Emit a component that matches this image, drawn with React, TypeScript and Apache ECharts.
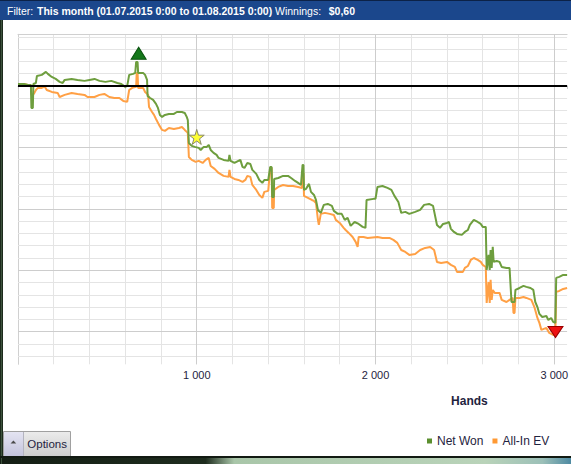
import React, { useEffect, useRef } from 'react';
import * as echarts from 'echarts';

// Hands played vs. result (y unit = one minor gridline)
const netWon: [number, number][] = [
  [0,0.16],[33,0.16],[56,0.08],[72,0.08],[75,-1.79],[83,-1.79],[86,0.16],[100,0.24],[106,0.81],[133,0.9],[156,1.14],[167,0.98],[189,0.73],[211,0.57],[233,0.33],[250,0.24],[261,0.49],[300,0.57],[333,0.49],[372,0.41],[400,0.49],[428,0.57],[456,0.41],[489,0.33],[522,0.41],[556,0.24],[578,0.16],[600,-0.08],[611,0],[622,0.9],[644,0.98],[656,1.06],[661,1.95],[669,1.95],[672,1.06],[700,1.06],[711,0.9],[722,0.49],[725,-0.81],[739,-0.98],[756,-1.14],[772,-1.46],[783,-1.79],[794,-2.36],[806,-2.52],[822,-2.36],[844,-2.28],[872,-2.28],[889,-2.12],[917,-2.12],[933,-2.2],[944,-2.52],[950,-2.77],[956,-4.64],[972,-4.88],[989,-4.96],[1011,-5.04],[1022,-5.21],[1039,-4.96],[1056,-4.96],[1067,-4.8],[1078,-5.21],[1094,-5.45],[1111,-5.61],[1122,-5.86],[1150,-6.02],[1178,-6.1],[1183,-5.61],[1189,-6.1],[1211,-6.27],[1233,-6.1],[1244,-6.02],[1256,-6.59],[1267,-6.67],[1283,-6.27],[1300,-6.35],[1311,-6.83],[1333,-7.16],[1350,-7.65],[1367,-7.89],[1378,-7.65],[1400,-7.65],[1411,-6.59],[1419,-6.59],[1422,-9.03],[1431,-9.03],[1433,-7.57],[1456,-7.49],[1483,-7.32],[1511,-7.32],[1528,-7.49],[1550,-7.73],[1567,-7.89],[1583,-8.06],[1592,-6.43],[1597,-6.43],[1600,-8.46],[1611,-8.38],[1628,-7.97],[1639,-8.62],[1656,-8.87],[1667,-9.28],[1678,-10.09],[1694,-10.33],[1711,-9.68],[1733,-9.6],[1756,-9.76],[1767,-10.17],[1789,-10.41],[1811,-10.41],[1828,-10.9],[1844,-10.74],[1861,-11.39],[1883,-11.07],[1906,-11.23],[1928,-11.47],[1944,-11.55],[1950,-9.28],[1989,-9.19],[2000,-9.19],[2011,-8.22],[2039,-8.14],[2067,-8.3],[2089,-8.46],[2106,-8.95],[2128,-9.44],[2144,-10.33],[2167,-10.25],[2189,-10.41],[2222,-10.25],[2250,-10.09],[2272,-9.68],[2300,-9.6],[2322,-9.76],[2344,-11.31],[2361,-11.55],[2378,-11.23],[2400,-11.15],[2411,-11.07],[2422,-11.63],[2439,-11.88],[2456,-12.04],[2483,-12.12],[2500,-11.88],[2517,-11.72],[2528,-11.31],[2550,-10.9],[2572,-11.07],[2589,-11.23],[2600,-11.47],[2617,-11.47],[2622,-14.97],[2633,-13.75],[2639,-14.97],[2644,-13.35],[2650,-14.81],[2656,-13.1],[2661,-14.32],[2678,-14.24],[2694,-14.32],[2706,-14.73],[2733,-14.81],[2750,-14.81],[2761,-17.58],[2778,-17.58],[2783,-16.6],[2806,-16.44],[2828,-16.27],[2844,-16.35],[2867,-16.44],[2883,-16.6],[2894,-17.58],[2906,-17.99],[2917,-18.55],[2933,-18.8],[2956,-18.72],[2967,-19.04],[2983,-18.88],[2994,-19.2],[3006,-19.28],[3011,-15.62],[3028,-15.54],[3050,-15.38],[3072,-15.38]
];

const allInEV: [number, number][] = [
  [0,0.16],[33,0.16],[56,0.08],[72,0.08],[75,-0.73],[89,-0.65],[100,-0.33],[111,-0.16],[133,-0.16],[150,-0.06],[161,-0.33],[189,-0.49],[222,-0.57],[233,-0.9],[261,-0.73],[300,-0.57],[333,-0.65],[372,-0.73],[389,-0.9],[428,-0.9],[456,-0.73],[483,-0.65],[511,-0.9],[539,-0.98],[567,-0.98],[589,-1.22],[611,-1.3],[622,-0.33],[639,-0.16],[661,-0.08],[664,1.06],[669,1.06],[672,-0.16],[700,-0.16],[711,-0.49],[728,-0.73],[733,-1.71],[750,-2.12],[761,-2.36],[772,-2.69],[789,-3.17],[806,-3.58],[822,-3.66],[844,-3.42],[872,-3.5],[900,-3.42],[917,-3.34],[933,-3.58],[944,-3.74],[950,-3.82],[956,-5.78],[972,-6.02],[994,-6.18],[1011,-6.1],[1033,-6.27],[1050,-6.02],[1067,-5.86],[1078,-6.51],[1100,-6.75],[1122,-7.08],[1150,-7.32],[1178,-7.4],[1183,-6.83],[1189,-7.4],[1211,-7.57],[1233,-7.65],[1256,-7.81],[1272,-7.65],[1283,-7.32],[1300,-7.4],[1311,-8.06],[1333,-8.46],[1350,-8.87],[1367,-9.11],[1378,-8.62],[1400,-8.54],[1411,-6.67],[1419,-6.67],[1422,-9.93],[1431,-9.93],[1433,-8.46],[1456,-8.22],[1483,-8.06],[1511,-8.14],[1539,-8.14],[1567,-8.22],[1589,-8.3],[1592,-7.08],[1597,-7.08],[1600,-8.95],[1622,-9.11],[1644,-9.28],[1656,-9.36],[1667,-9.52],[1678,-10.9],[1683,-11.31],[1694,-10.41],[1717,-10.33],[1744,-10.41],[1767,-10.5],[1778,-10.9],[1800,-11.15],[1822,-11.55],[1833,-11.72],[1850,-11.96],[1872,-12.29],[1889,-12.69],[1900,-13.1],[1906,-12.29],[1933,-12.29],[1956,-12.37],[2011,-12.29],[2039,-12.37],[2078,-12.37],[2100,-12.53],[2122,-12.77],[2144,-13.35],[2167,-13.51],[2189,-13.75],[2222,-13.67],[2250,-13.35],[2278,-13.18],[2306,-13.1],[2328,-13.35],[2344,-14.32],[2367,-14.4],[2400,-14.32],[2422,-14.56],[2444,-14.73],[2456,-15.13],[2489,-15.13],[2500,-14.81],[2517,-14.65],[2533,-14.16],[2550,-14],[2572,-14.16],[2589,-14.32],[2600,-14.56],[2617,-14.73],[2622,-17.66],[2633,-15.95],[2639,-17.66],[2644,-15.78],[2650,-17.41],[2656,-16.6],[2667,-16.84],[2694,-16.84],[2706,-17.41],[2733,-17.58],[2750,-17.41],[2767,-17.25],[2772,-18.48],[2778,-18.48],[2783,-17.25],[2806,-17.25],[2828,-17.17],[2844,-17.25],[2872,-17.41],[2889,-17.99],[2906,-18.88],[2917,-19.28],[2928,-19.85],[2956,-19.69],[2972,-20.1],[2994,-20.26],[3006,-20.26],[3011,-16.76],[3028,-16.68],[3050,-16.52],[3072,-16.44]
];

const bestPoint: [number, number][] = [[675, 2.66]];
const starPoint: [number, number][] = [[1000, -4.15]];
const worstPoint: [number, number][] = [[3007, -20.02]];

const seriesNames = ['Net Won', 'All-In EV'];
const xMajorTicks = [1000, 2000, 3000];
const yGridValues = [4, 3, 2, 1, -1, -2, -3, -4, -5, -6, -7, -8, -9, -10, -11, -12, -13, -14, -15, -16, -17, -18, -19, -20, -21, -22];
const yMajorValues = [-5, -10, -15, -20];

const FONT = '"Liberation Sans", Arial, sans-serif';
const TEXT = '#1f2340';
const STAR = 'path://M50,0 L61,35 L98,35 L68,57 L79,91 L50,70 L21,91 L32,57 L2,35 L39,35 Z';

export default function App() {
  const ref = useRef<HTMLDivElement>(null);
  useEffect(() => {
    const chart = echarts.init(ref.current!, null, { renderer: 'svg', width: 571, height: 464 });
    const gridLines: any[] = [
      ...yGridValues.map((v) => ({
        yAxis: v,
        lineStyle: { color: yMajorValues.includes(v) ? '#cdcdcd' : '#e4e4e4', width: 1, type: 'solid' },
      })),
      ...xMajorTicks.map((v) => ({
        xAxis: v,
        lineStyle: { color: '#cdcdcd', width: 1, type: 'solid' },
      })),
    ];
    chart.setOption({
      animation: false,
      backgroundColor: '#ffffff',
      grid: { left: 18, top: 34.3, right: 0, bottom: 99.7 },
      legend: {
        data: seriesNames,
        left: 422,
        top: 430,
        padding: 5,
        icon: 'rect',
        itemWidth: 5,
        itemHeight: 5,
        itemGap: 9,
        selectedMode: false,
        textStyle: { fontFamily: FONT, fontSize: 12, color: TEXT },
      },
      xAxis: [
        {
          type: 'value',
          min: 0,
          max: 3072,
          interval: 200,
          axisLine: { show: true, lineStyle: { color: '#c8c8c8', width: 1 } },
          axisTick: { show: true, length: 3, lineStyle: { color: '#c8c8c8' } },
          splitLine: { show: true, showMinLine: false, showMaxLine: false, lineStyle: { color: '#e4e4e4', width: 1 } },
          axisLabel: {
            margin: 5,
            fontFamily: FONT,
            fontSize: 11,
            color: TEXT,
            formatter: (v: number) => (v > 0 && v % 1000 === 0 ? `${v / 1000} 000` : ''),
          },
        },
        {
          type: 'value',
          position: 'top',
          min: 0,
          max: 3072,
          axisLine: { show: true, lineStyle: { color: '#d0d0d0', width: 1 } },
          axisTick: { show: false },
          axisLabel: { show: false },
          splitLine: { show: false },
        },
      ],
      yAxis: {
        type: 'value',
        min: -22.65,
        max: 4.2,
        axisLine: { show: true, lineStyle: { color: '#d0d0d0', width: 1 } },
        axisTick: { show: false },
        axisLabel: { show: false },
        splitLine: { show: false },
      },
      series: [
        {
          name: 'grid',
          type: 'line',
          data: [[0, 0]],
          showSymbol: false,
          lineStyle: { width: 0, opacity: 0 },
          silent: true,
          z: 1,
          markLine: {
            silent: true,
            z: 1,
            symbol: ['none', 'none'],
            label: { show: false },
            data: gridLines,
          },
        },
        {
          name: 'All-In EV',
          type: 'line',
          data: allInEV,
          showSymbol: false,
          symbol: 'none',
          color: '#ff9933',
          lineStyle: { color: '#ffa045', width: 2 },
          z: 3,
        },
        {
          name: 'Net Won',
          type: 'line',
          data: netWon,
          showSymbol: false,
          symbol: 'none',
          color: '#5b8f2e',
          lineStyle: { color: '#6e9e3e', width: 2 },
          z: 4,
          markLine: {
            silent: true,
            z: 6,
            symbol: ['none', 'none'],
            label: { show: false },
            data: [{ yAxis: 0, lineStyle: { color: '#000000', width: 2, type: 'solid' } }],
          },
        },
        {
          name: 'best',
          type: 'scatter',
          data: bestPoint,
          symbol: 'triangle',
          symbolSize: [15, 12],
          itemStyle: { color: '#14781a', borderColor: '#0b5410', borderWidth: 1, opacity: 1 },
          z: 8,
          silent: true,
        },
        {
          name: 'mark',
          type: 'scatter',
          data: starPoint,
          symbol: STAR,
          symbolSize: 15,
          itemStyle: { color: '#ffff33', borderColor: '#8a8a6a', borderWidth: 1, opacity: 1 },
          z: 8,
          silent: true,
        },
        {
          name: 'worst',
          type: 'scatter',
          data: worstPoint,
          symbol: 'triangle',
          symbolRotate: 180,
          symbolSize: [15, 11],
          itemStyle: { color: '#ee1111', borderColor: '#9a0000', borderWidth: 1, opacity: 1 },
          z: 8,
          silent: true,
        },
      ],
      graphic: [
        // header bar
        { type: 'rect', shape: { x: 0, y: 0, width: 571, height: 20 }, style: { fill: '#1b478c' }, z: 100 },
        { type: 'rect', shape: { x: 0, y: 0, width: 571, height: 1 }, style: { fill: '#0c2247' }, z: 101 },
        { type: 'text', x: 7, y: 11.2, z: 102, style: { text: 'Filter:', fill: '#ffffff', fontFamily: FONT, fontSize: 10.5, verticalAlign: 'middle' } },
        { type: 'text', x: 37, y: 11.2, z: 102, style: { text: 'This month (01.07.2015 0:00 to 01.08.2015 0:00)', fill: '#ffffff', fontFamily: FONT, fontSize: 10.5, fontWeight: 'bold', verticalAlign: 'middle' } },
        { type: 'text', x: 275, y: 11.2, z: 102, style: { text: 'Winnings:', fill: '#ffffff', fontFamily: FONT, fontSize: 10.5, verticalAlign: 'middle' } },
        { type: 'text', x: 328.7, y: 11.2, z: 102, style: { text: '$0,60', fill: '#ffffff', fontFamily: FONT, fontSize: 10.5, fontWeight: 'bold', verticalAlign: 'middle' } },
        // left window frame
        { type: 'rect', shape: { x: 0, y: 20, width: 3, height: 444 }, style: { fill: '#1c2a1c' }, z: 100 },
        { type: 'rect', shape: { x: 1, y: 20, width: 1, height: 444 }, style: { fill: '#3c523c' }, z: 101 },
        // axis title
        { type: 'text', x: 469.4, y: 400.5, z: 50, style: { text: 'Hands', fill: TEXT, fontFamily: FONT, fontSize: 12, fontWeight: 'bold', align: 'center', verticalAlign: 'middle' } },
        // Options button
        {
          type: 'rect', shape: { x: 3.5, y: 431.5, width: 67, height: 25 }, z: 100,
          style: { fill: { type: 'linear', x: 0, y: 0, x2: 0, y2: 1, colorStops: [{ offset: 0, color: '#ececec' }, { offset: 1, color: '#cdcdcd' }] }, stroke: '#a0a0a0', lineWidth: 1 },
        },
        {
          type: 'rect', shape: { x: 4, y: 432, width: 19, height: 24 }, z: 101,
          style: { fill: { type: 'linear', x: 0, y: 0, x2: 0, y2: 1, colorStops: [{ offset: 0, color: '#e4e4f2' }, { offset: 1, color: '#c4c4dc' }] } },
        },
        { type: 'line', shape: { x1: 23.5, y1: 432, x2: 23.5, y2: 456 }, style: { stroke: '#b4b4c0', lineWidth: 1 }, z: 101 },
        { type: 'polygon', shape: { points: [[10.6, 443.4], [16.2, 443.4], [13.4, 440.4]] }, style: { fill: '#4a4a4a' }, z: 102 },
        { type: 'text', x: 27.3, y: 443.5, z: 102, style: { text: 'Options', fill: TEXT, fontFamily: FONT, fontSize: 11.5, verticalAlign: 'middle' } },
        // bottom window frame
        {
          type: 'rect', shape: { x: 0, y: 456.5, width: 571, height: 7.5 }, z: 100,
          style: { fill: { type: 'linear', x: 0, y: 0, x2: 1, y2: 0, colorStops: [
            { offset: 0, color: '#141e14' }, { offset: 0.36, color: '#1e2c1e' }, { offset: 0.41, color: '#a9c6a9' },
            { offset: 0.85, color: '#b9d3b9' }, { offset: 0.95, color: '#9cc0b8' }, { offset: 1, color: '#4e8aa2' } ] } },
        },
        { type: 'rect', shape: { x: 0, y: 456, width: 571, height: 2 }, style: { fill: '#121a12' }, z: 101 },
      ],
    });
    return () => chart.dispose();
  }, []);
  return (
    <div style={{ position: 'fixed', left: 0, top: 0, width: 571, height: 464, background: '#fff', overflow: 'hidden' }}>
      <div ref={ref} style={{ width: 571, height: 464 }} />
    </div>
  );
}
